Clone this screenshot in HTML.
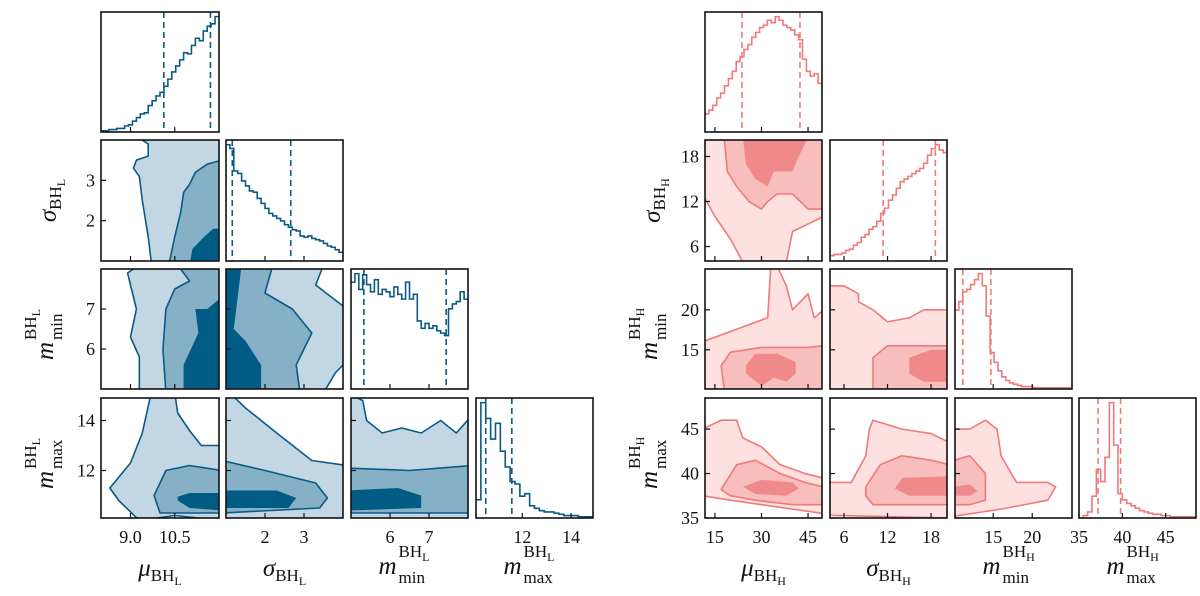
<!DOCTYPE html>
<html><head><meta charset="utf-8"><style>
html,body{margin:0;padding:0;background:#fff;}
svg{display:block;font-family:"Liberation Serif",serif;}
</style></head><body>
<svg id="chart" width="1200" height="596" viewBox="0 0 1200 596" xmlns="http://www.w3.org/2000/svg"></svg>
<script>
// ---------- data ----------
const rowsY=[[12,132],[140,261],[269,389],[398,518]];
const colsL=[[101,219],[226,343],[351,468],[476,593]];
const colsR=[[705,822],[830,947],[955,1072],[1079,1196]];
const rangesL=[[8,12],[1,4],[5,8],[10.1,14.9]];
const rangesR=[[11.8,49.5],[4.07,20.2],[10.1,25.1],[35,48.5]];
const ticksL=[[9,10.5],[2,3],[6,7],[12,14]];
const ticksR=[[15,30,45],[6,12,18],[15,20],[35,40,45]];
const tickLabelsL=[["9.0","10.5"],["2","3"],["6","7"],["12","14"]];
const tickLabelsR=[["15","30","45"],["6","12","18"],["15","20"],["35","40","45"]];
const paramL=["μ","σ","m","m"];
// histograms
const histMuL=[1,1,2,2,3,3,5,6,9,12,15,16,22,26,30,33,38,44,50,55,60,66,65,72,78,76,84,88,90,96];
const histSigL=[93,90,72,70,64,60,56,55,50,46,42,38,36,34,32,29,27,25,24,20,19,20,18,17,16,14,12,11,9,7];
const histMinL=[88,95,82,94,86,80,90,78,82,80,76,84,78,74,88,74,78,56,50,54,50,52,48,46,44,66,70,72,80,74];
const histMaxL=[15,95,82,65,78,55,42,30,28,18,20,10,8,6,5,5,4,3,2,2,2,1,1,1];
const histMuR=[15,18,22,28,32,38,44,50,58,62,68,72,78,82,86,88,92,90,95,92,88,86,84,80,76,60,50,46,48,40];
const histSigR=[4,5,5,6,8,9,12,14,18,20,24,26,30,36,40,46,50,55,60,62,64,66,68,70,74,80,85,88,84,82];
const histMinR=[65,72,80,82,86,90,95,85,60,30,22,15,10,7,5,4,3,2,2,2,1,1,1,1,1,1,1,1,1,1];
const histMaxR=[0,2,5,18,40,30,50,95,60,20,15,12,10,8,6,5,4,3,3,2,2,1,1,1,1,1,1];
const quantL=[[10.13,11.71],[1.16,2.66],[5.33,7.44],[10.5,11.57]];
const quantR=[[23.7,42.4],[11.4,18.6],[11.1,14.7],[37.2,39.8]];
// contours: [row,col, outer, mid, inner] in data units (x,y)
const contL=[
 [1,0,[[9.7,1],[9.6,1.6],[9.4,2.5],[9.3,3.1],[9.1,3.3],[9.2,3.5],[9.6,3.6],[9.6,3.9],[9.3,4.05],[12.1,4.05],[12.1,0.9],[9.7,0.9]],
      [[10.3,0.9],[10.5,1.6],[10.7,2.2],[10.8,2.7],[11.0,2.9],[11.2,3.2],[11.6,3.4],[12.1,3.5],[12.1,0.9]],
      [[11.0,0.9],[11.1,1.3],[11.5,1.6],[11.8,1.8],[12.1,1.8],[12.1,0.9]]],
 [2,0,[[9.3,4.9],[9.3,5.8],[9.0,6.3],[9.2,7.0],[9.0,7.6],[8.9,7.9],[9.3,8.1],[12.1,8.1],[12.1,4.9]],
      [[10.2,4.9],[10.1,6],[10.2,7],[10.5,7.5],[11,7.7],[10.6,8.1],[12.1,8.1],[12.1,4.9]],
      [[10.8,4.9],[10.8,5.6],[11.3,6.4],[11.2,7.0],[11.6,7.0],[12.1,7.3],[12.1,4.9]]],
 [3,0,[[9.3,10],[8.6,10.8],[8.3,11.3],[9,12.3],[9.4,13.5],[9.7,15.1],[10.5,15.1],[10.6,14.3],[11,13.6],[11.4,13],[12.1,13],[12.1,10],[10.5,10.2]],
      [[10.0,10.3],[9.8,11],[10.2,12],[11,12.2],[12.1,12.0],[12.1,10.3],[11,10.3]],
      [[10.6,10.8],[11,10.5],[12.1,10.4],[12.1,11.1],[11,11.1],[10.6,10.95]]],
 [2,1,[[0.9,4.9],[3.5,4.9],[3.8,5.4],[4.1,5.7],[4.1,7.0],[3.7,7.3],[3.3,7.6],[3.5,8.1],[0.9,8.1]],
      [[0.9,4.9],[2.9,4.9],[2.8,5.6],[3.2,6.4],[2.7,7.0],[2.0,7.4],[2.2,8.1],[0.9,8.1]],
      [[0.9,4.9],[1.9,4.9],[1.9,5.6],[1.5,6.2],[1.2,6.5],[1.3,7.3],[1.4,8.1],[0.9,8.1]]],
 [3,1,[[0.9,9.9],[4.1,9.9],[4.1,12.2],[3.2,12.4],[2.3,13.5],[1.5,14.5],[1.1,15.1],[0.9,15.1]],
      [[0.9,10.3],[3.4,10.5],[3.6,10.9],[3.3,11.5],[2.0,12],[0.9,12.4]],
      [[0.9,10.5],[2.6,10.5],[2.8,10.9],[2.3,11.2],[0.9,11.2]]],
 [3,2,[[4.9,9.9],[8.1,9.9],[8.1,14.2],[7.7,13.5],[7.3,14],[6.8,13.5],[6.3,13.7],[5.8,13.5],[5.4,14],[5.3,14.8],[4.9,15.1]],
      [[4.9,10.3],[8.1,10.3],[8.1,12.2],[6.5,12.0],[4.9,12.1]],
      [[4.9,10.4],[6.8,10.5],[6.8,11.0],[6.2,11.3],[4.9,11.2]]]
];
const contR=[
 [1,0,[[11,20.5],[50,20.5],[50,10],[45,9],[40,8],[38,3.9],[24,3.9],[20,7],[15,10],[11,13]],
      [[18,20.5],[19,16],[22,14],[26,12],[30,11],[32,12],[35,13],[40,13],[45,11],[50,11],[50,20.5]],
      [[24,20.5],[25,17],[28,15],[32,14],[34,16],[40,16],[42,18],[45,20.5]]],
 [2,0,[[11,10],[50,10],[50,20],[47,19],[45,22],[40,20],[38,23],[35,25.5],[33,25.5],[32,19],[25,18],[18,17],[11,16]],
      [[18,10],[17,13],[20,14.7],[30,15.3],[45,15.3],[50,15.5],[50,10]],
      [[25,13],[28,14.5],[35,14.5],[41,13.5],[41,12],[38,11],[34,11.5],[30,10.5],[25,12]]],
 [3,0,[[11,45],[17,46],[22,46],[24,44],[30,43],[36,41],[44,40],[50,39.5],[50,35.5],[40,36],[30,36.5],[20,37],[11,37.5]],
      [[17,38.2],[22,41],[28,41.5],[36,40],[44,39],[50,38.5],[50,36.5],[40,36.5],[28,37],[20,37.5]],
      [[24,38.5],[30,39.3],[40,39],[42,38.3],[38,37.5],[28,37.7]]],
 [2,1,[[4,10],[20.5,10],[20.5,20],[17,20],[15,19],[12,18.5],[10,20],[8,21],[8,22],[6,23],[4,23]],
      [[10,10],[10,14],[12,15.5],[20.5,15.5],[20.5,10]],
      [[15,12],[15,14],[18,15],[20.5,15],[20.5,11],[17,11]]],
 [3,1,[[4,39],[7,39],[9,42],[9.5,45],[10,46],[14,45],[18,44.5],[20.5,43.5],[20.5,35],[4,35.3]],
      [[9,37.5],[9,38.5],[11,41],[14,42],[18,41.5],[20.5,41],[20.5,36.5],[10,36.5]],
      [[13,38.3],[14,39.5],[20.5,39.7],[20.5,37.5],[15,37.5]]],
 [3,2,[[10,45],[12,45],[14,46],[15.5,45],[16,42],[18,39],[22,39],[23,38.5],[22,37],[16,36],[10,35.2]],
      [[10,41.5],[12,42],[14,40],[14,37],[12,36.5],[10,36.5]],
      [[10,38.5],[12,38.8],[13,38],[12,37.5],[10,37.5]]]
];
// ---------- drawing ----------
const NS="http://www.w3.org/2000/svg";
const svg=document.getElementById('chart');
function el(tag,attrs,parent){const e=document.createElementNS(NS,tag);for(const k in attrs)e.setAttribute(k,attrs[k]);(parent||svg).appendChild(e);return e;}
let clipId=0;
function sx(cols,ranges,c,v){const [a,b]=cols[c],[lo,hi]=ranges[c];return a+(v-lo)/(hi-lo)*(b-a);}
function sy(ranges,r,v){const [a,b]=rowsY[r],[lo,hi]=ranges[r];return b-(v-lo)/(hi-lo)*(b-a);}
function drawSide(side){
 const cols=side==='L'?colsL:colsR, ranges=side==='L'?rangesL:rangesR, ticks=side==='L'?ticksL:ticksR, tl=side==='L'?tickLabelsL:tickLabelsR;
 const pal=side==='L'?{line:'#0b5a85',f:['#c2d7e3','#86b0c6','#005b85']}:{line:'#f07a7a',f:['#fde0e0','#f8bebe','#f08a8a']};
 const hists=side==='L'?[histMuL,histSigL,histMinL,histMaxL]:[histMuR,histSigR,histMinR,histMaxR];
 const quants=side==='L'?quantL:quantR;
 const conts=side==='L'?contL:contR;
 const sub=side==='L'?'L':'H';
 const sideG=el('g',{});
 
 
 for(let r=0;r<4;r++)for(let c=0;c<=r;c++){
  const g=el('g',{},sideG);
  
  
  const [x0,x1]=cols[c],[y0,y1]=rowsY[r];
  const id='cp'+(clipId++);
  const cp=el('clipPath',{id},g);el('rect',{x:x0,y:y0,width:x1-x0,height:y1-y0},cp);
  const inner=el('g',{'clip-path':`url(#${id})`},g);
  if(r===c){
   const h=hists[c],n=h.length,[lo,hi]=ranges[c],w=(hi-lo)/n,mx=Math.max(...h)*1.04;
   let d='';
   h.forEach((v,i)=>{const xa=sx(cols,ranges,c,lo+i*w),xb=sx(cols,ranges,c,lo+(i+1)*w),yy=y1-v/mx*(y1-y0);d+=(i===0?`M${xa},${yy}`:`L${xa},${yy}`)+`L${xb},${yy}`;});
   const p=el('path',{d,fill:'none',stroke:pal.line,'stroke-width':1.6},inner);
   
   
   quants[c].forEach(q=>{const xx=sx(cols,ranges,c,q);const l=el('line',{x1:xx,x2:xx,y1:y0,y2:y1,stroke:pal.line,'stroke-width':1.6,'stroke-dasharray':'6,4'},inner);
    
    });
  } else {
   const cd=conts.find(k=>k[0]===r&&k[1]===c);
   for(let L=0;L<3;L++){
    const pts=cd[2+L].map(([vx,vy])=>`${sx(cols,ranges,c,vx)},${sy(ranges,r,vy)}`).join(' ');
    const pg=el('polygon',{points:pts,fill:pal.f[L],stroke:L<2?pal.line:'none','stroke-width':1.6,'stroke-linejoin':'round'},inner);
    
    
   }
  }
  el('rect',{x:x0,y:y0,width:x1-x0,height:y1-y0,fill:'none',stroke:'#111','stroke-width':1.6},g);
  ticks[c].forEach((t,i)=>{const xx=sx(cols,ranges,c,t);el('line',{x1:xx,x2:xx,y1:y1,y2:y1-5,stroke:'#111','stroke-width':1.2},g);
   if(r===3){const tx=el('text',{x:xx,y:y1+25,'text-anchor':'middle','font-size':18,fill:'#111'},g);tx.textContent=tl[c][i];
    
    }});
  if(c===0&&r>0){ticks[r].forEach((t,i)=>{const yy=sy(ranges,r,t);el('line',{x1:x0,x2:x0+5,y1:yy,y2:yy,stroke:'#111','stroke-width':1.2},g);
   const ty=el('text',{x:x0-6,y:yy+6,'text-anchor':'end','font-size':18,fill:'#111'},g);ty.textContent=tl[r][i];
   
   });}
  else if(r!==c){ticks[r].forEach(t=>{const yy=sy(ranges,r,t);el('line',{x1:x0,x2:x0+5,y1:yy,y2:yy,stroke:'#111','stroke-width':1.2},g);});}
 }
 const names=['mu','sigma','m-min','m-max'];
 for(let k=0;k<4;k++){
  const cx=(cols[k][0]+cols[k][1])/2;
  const gx=el('g',{transform:`translate(${cx},${k<2?576:574})`},sideG);
  
  
  makeLabel(gx,paramL[k],k,sub);
  if(k>0){
   const cy=(rowsY[k][0]+rowsY[k][1])/2;
   const gy=el('g',{transform:`translate(${cols[0][0]-(k<2?45:48)},${cy}) rotate(-90)`},sideG);
   
   
   makeLabel(gy,paramL[k],k,sub);
  }
 }
}
function makeLabel(g,sym,k,sub){
 if(k<2){
  const t=el('text',{x:0,y:0,'text-anchor':'middle','font-size':25,fill:'#111'},g);
  const a=el('tspan',{'font-style':'italic'},t);a.textContent=sym;
  const b=el('tspan',{'font-size':17,dy:5},t);b.textContent='BH';
  const c=el('tspan',{'font-size':12,dy:4},t);c.textContent=sub;
 } else {
  const m=el('text',{x:-22,y:0,'text-anchor':'middle','font-size':25,'font-style':'italic',fill:'#111'},g);m.textContent='m';
  const t=el('text',{x:-11,y:-17,'font-size':17,fill:'#111'},g);
  const b=el('tspan',{},t);b.textContent='BH';
  const c=el('tspan',{'font-size':12,dy:4},t);c.textContent=sub;
  const mm=el('text',{x:-11,y:9,'font-size':17,fill:'#111'},g);mm.textContent=k===2?'min':'max';
 }
}
drawSide('L');drawSide('R');
</script>
</body></html>
